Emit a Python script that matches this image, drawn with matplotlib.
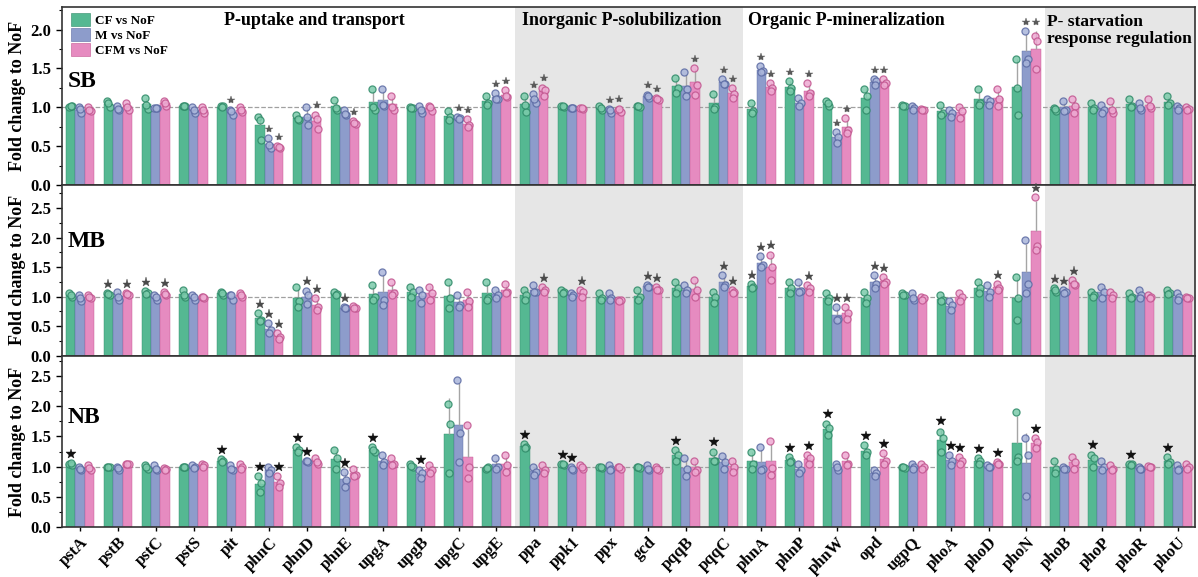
import matplotlib
matplotlib.use('Agg')
import matplotlib.pyplot as plt
import numpy as np
from matplotlib.transforms import offset_copy
from matplotlib.patches import Patch

plt.rcParams['font.family'] = ['Liberation Serif', 'DejaVu Serif']
plt.rcParams['font.weight'] = 'bold'

genes = ['pstA', 'pstB', 'pstC', 'pstS', 'pit', 'phnC', 'phnD', 'phnE', 'upgA', 'upgB',
         'upgC', 'upgE', 'ppa', 'ppk1', 'ppx', 'gcd', 'pqqB', 'pqqC', 'phnA', 'phnP',
         'phnW', 'opd', 'ugpQ', 'phoA', 'phoD', 'phoN', 'phoB', 'phoP', 'phoR', 'phoU']
series_names = ['CF vs NoF', 'M vs NoF', 'CFM vs NoF']
panel_names = ['SB', 'MB', 'NB']
sections = ['P-uptake and transport', 'Inorganic P-solubilization',
            'Organic P-mineralization', 'P- starvation\nresponse regulation']

# replicate values (3 per bar)
SB_CF = [(1.00,1.02,1.02),(1.08,1.00,1.05),(1.12,0.98,1.03),(1.02,1.01,1.02),(1.01,1.01,1.00),
         (0.88,0.58,0.84),(0.90,0.83,0.85),(1.09,0.97,0.99),(1.23,0.96,1.00),(1.00,0.99,0.99),
         (0.95,0.88,0.83),(1.15,1.05,1.03),(1.15,0.94,1.03),(1.02,1.00,1.01),(1.02,0.97,0.99),
         (1.01,1.00,1.01),(1.38,1.25,1.18),(1.17,1.00,0.98),(1.05,0.95,0.92),(1.34,1.25,1.21),
         (1.08,1.01,1.05),(1.23,1.14,0.97),(1.03,1.01,1.02),(1.03,0.93,0.90),(1.23,1.05,1.03),
         (1.62,0.90,1.25),(0.99,0.95,0.98),(1.05,0.99,0.97),(1.10,1.01,1.00),(1.14,1.05,1.03)]
SB_M = [(1.00,0.92,0.98),(1.02,0.97,0.98),(0.99,0.99,0.99),(1.00,0.93,0.97),(0.97,0.90,0.95),
        (0.60,0.48,0.52),(1.00,0.77,0.87),(0.96,0.90,0.91),(1.23,1.02,1.03),(1.02,0.93,0.97),
        (0.88,0.86,0.85),(1.18,1.11,1.10),(1.17,1.05,1.10),(0.99,0.99,0.99),(0.98,0.93,0.96),
        (1.16,1.12,1.15),(1.45,1.23,1.14),(1.36,1.30,1.30),(1.53,1.47,1.45),(1.12,1.05,1.01),
        (0.68,0.62,0.54),(1.36,1.34,1.29),(1.01,0.99,0.97),(0.97,0.93,0.88),(1.10,1.08,1.03),
        (1.98,1.62,1.57),(1.08,0.97,0.95),(1.03,0.97,0.93),(1.05,0.97,0.99),(1.01,0.99,0.97)]
SB_CFM = [(1.00,0.95,0.97),(1.06,0.97,1.00),(1.08,1.02,1.06),(1.00,0.92,0.96),(1.00,0.94,0.96),
          (0.50,0.48,0.49),(0.90,0.72,0.85),(0.82,0.79,0.80),(1.14,0.97,1.00),(1.02,0.95,1.00),
          (0.85,0.77,0.75),(1.22,1.13,1.14),(1.25,1.22,1.15),(0.99,0.98,0.99),(0.97,0.94,0.98),
          (1.12,1.09,1.10),(1.51,1.29,1.16),(1.25,1.17,1.12),(1.31,1.25,1.21),(1.31,1.18,1.14),
          (0.86,0.71,0.67),(1.36,1.31,1.29),(0.98,0.97,0.96),(1.00,0.95,0.86),(1.23,1.10,1.01),
          (1.92,1.85,1.49),(1.10,1.01,0.93),(1.08,0.93,0.97),(1.10,0.99,1.01),(1.00,0.98,0.97)]

MB_CF = [(1.06,1.00,1.02),(1.06,1.03,1.04),(1.10,1.06,1.05),(1.11,1.00,1.03),(1.08,1.03,1.06),
         (0.72,0.60,0.59),(1.17,0.92,0.83),(1.08,1.05,1.03),(1.19,1.00,0.94),(1.17,1.08,1.00),
         (1.25,0.97,0.80),(1.25,0.97,0.94),(1.11,1.03,0.94),(1.11,1.08,1.06),(1.06,0.97,0.94),
         (1.11,1.00,0.94),(1.25,1.14,1.06),(1.08,1.00,0.89),(1.22,1.17,1.14),(1.25,1.14,1.06),
         (1.06,0.97,0.92),(1.08,0.97,0.89),(1.07,1.03,1.03),(1.03,0.94,0.92),(1.25,1.14,1.06),
         (1.34,0.97,0.60),(1.14,1.08,1.11),(1.08,1.03,1.00),(1.06,1.00,0.98),(1.11,1.06,1.05)]
MB_M = [(1.03,0.93,0.98),(1.08,0.94,1.00),(1.03,0.94,1.00),(1.03,0.94,1.00),(1.03,0.94,1.03),
        (0.55,0.44,0.38),(1.10,1.02,0.87),(0.83,0.80,0.80),(1.42,0.94,0.86),(1.11,1.03,0.89),
        (1.03,0.86,0.83),(1.11,1.03,0.97),(1.19,1.08,1.08),(1.06,1.03,1.00),(1.06,0.98,0.94),
        (1.19,1.17,1.17),(1.19,1.11,1.06),(1.37,1.19,1.17),(1.68,1.54,1.51),(1.25,1.10,1.08),
        (0.83,0.63,0.60),(1.37,1.22,1.14),(1.06,0.94,0.98),(0.92,0.86,0.77),(1.19,1.08,1.00),
        (1.96,1.22,1.06),(1.11,1.08,1.06),(1.17,1.08,0.97),(1.11,1.02,0.97),(1.06,1.00,0.94)]
MB_CFM = [(1.02,0.97,0.99),(1.06,1.03,1.04),(1.08,1.03,1.04),(1.00,0.97,1.00),(1.06,1.00,1.03),
          (0.38,0.32,0.29),(0.97,0.83,0.77),(0.85,0.80,0.81),(1.25,1.06,1.03),(1.17,1.06,0.94),
          (1.08,0.92,0.83),(1.22,1.08,1.06),(1.17,1.11,1.08),(1.11,1.08,1.00),(0.94,0.94,0.92),
          (1.17,1.11,1.11),(1.28,1.11,1.00),(1.11,1.08,1.06),(1.71,1.51,1.28),(1.19,1.14,1.08),
          (0.83,0.72,0.63),(1.34,1.25,1.22),(1.00,0.97,0.94),(1.06,1.00,0.92),(1.22,1.14,1.11),
          (2.69,1.85,1.79),(1.28,1.19,1.22),(1.08,1.03,0.97),(1.03,1.00,0.98),(1.00,0.97,0.97)]

NB_CF = [(1.05,1.03,1.06),(1.00,0.99,1.00),(1.03,0.97,0.99),(1.00,0.99,0.99),(1.12,1.10,1.08),
         (0.84,0.73,0.59),(1.32,1.27,1.25),(1.27,1.14,0.97),(1.33,1.25,1.27),(1.05,0.99,1.01),
         (2.04,1.71,0.89),(0.97,0.99,0.98),(1.38,1.33,1.30),(1.05,1.03,1.04),(1.00,0.98,0.99),
         (1.00,0.98,0.99),(1.27,1.19,1.10),(1.25,1.10,1.10),(1.25,1.05,0.97),(1.16,1.10,1.07),
         (1.71,1.63,1.52),(1.36,1.25,1.19),(1.00,0.98,0.99),(1.58,1.47,1.25),(1.14,1.10,1.05),
         (1.91,1.16,1.10),(1.10,0.97,0.89),(1.19,1.14,1.00),(1.05,1.04,1.03),(1.16,1.08,1.05)]
NB_M = [(1.00,0.95,0.97),(1.00,0.95,0.98),(1.03,0.95,0.97),(1.03,1.00,0.98),(1.03,0.95,0.97),
        (1.00,0.95,0.90),(1.10,1.08,1.09),(0.92,0.78,0.67),(1.19,1.08,1.03),(0.95,0.89,0.81),
        (2.43,1.55,1.08),(1.14,1.00,0.97),(1.00,0.92,0.86),(1.00,0.95,0.96),(1.03,0.96,0.95),
        (1.03,0.95,0.97),(1.14,0.97,0.84),(1.18,1.08,0.97),(1.33,0.97,0.95),(1.05,0.95,0.89),
        (1.05,0.95,1.00),(0.95,0.89,0.84),(1.05,1.00,0.97),(1.19,1.10,1.03),(1.02,1.00,0.99),
        (1.47,1.19,0.51),(0.99,0.97,0.96),(1.10,1.00,0.95),(1.00,0.97,0.96),(1.03,0.97,0.95)]
NB_CFM = [(1.03,0.95,0.98),(1.05,1.04,1.04),(0.98,0.96,0.95),(1.05,1.03,1.00),(1.04,1.00,0.96),
          (0.84,0.73,0.67),(1.14,1.05,1.08),(0.97,0.86,0.84),(1.14,1.05,1.03),(1.03,0.95,0.89),
          (1.68,1.00,0.81),(1.19,1.03,0.92),(1.03,0.95,0.89),(1.03,0.97,0.99),(1.00,0.97,0.99),
          (1.00,0.95,0.96),(1.10,0.95,0.92),(1.10,1.00,0.92),(1.42,0.98,0.87),(1.19,1.14,1.05),
          (1.19,1.05,1.03),(1.22,1.10,1.05),(1.05,1.00,0.97),(1.16,1.10,1.05),(1.08,1.05,1.04),
          (1.47,1.41,1.30),(1.16,1.08,0.97),(1.03,0.97,0.95),(1.01,0.99,1.00),(1.05,1.00,0.97)]

# significance (gene indices marked with asterisk)
SB_sig = [[19],
          [4, 5, 10, 11, 12, 14, 15, 17, 18, 20, 21, 25],
          [5, 6, 7, 10, 11, 12, 14, 15, 16, 17, 18, 19, 20, 21, 25]]
MB_sig = [[1, 2, 5, 18, 26],
          [5, 6, 7, 15, 17, 18, 20, 21, 26],
          [1, 2, 5, 6, 12, 13, 15, 17, 18, 19, 20, 21, 24, 25, 26]]
NB_sig = [[0, 4, 5, 6, 8, 12, 13, 16, 17, 19, 20, 21, 23, 24, 27, 28, 29],
          [6, 7, 9, 13, 23],
          [5, 19, 21, 23, 24, 25]]

panels = [(SB_CF, SB_M, SB_CFM, SB_sig), (MB_CF, MB_M, MB_CFM, MB_sig), (NB_CF, NB_M, NB_CFM, NB_sig)]

colors = ['#55b892', '#8d9ccb', '#e68bc0']
edge_dark = ['#2f8a68', '#5b6aa3', '#c2558f']
light = ['#7ccbab', '#a9b5da', '#eeaad2']
star_colors = ['#5a5a5a', '#4a4a4a', '#111111']
star_sizes = [6.0, 6.5, 7.5]
ylims = [2.29, 2.89, 2.83]
yticks = [[0, 0.5, 1.0, 1.5, 2.0], [0, 0.5, 1.0, 1.5, 2.0, 2.5], [0, 0.5, 1.0, 1.5, 2.0, 2.5]]
label_y = [0.58, 0.67, 0.64]

fig = plt.figure(figsize=(11.98, 5.77), dpi=100)
L, W = 0.05175, 0.9457
rects = [(L, 0.6794, W, 0.3085), (L, 0.3835, W, 0.2959), (L, 0.0861, W, 0.2974)]
x = np.arange(len(genes))
width = 0.25
jit = [-0.035, 0.035, 0.0]

for p, (rect, data) in enumerate(zip(rects, panels)):
    ax = fig.add_axes(rect)
    ax.axvspan(11.5, 17.5, color='#e6e6e6', lw=0, zorder=0)
    ax.axvspan(25.5, 31, color='#e6e6e6', lw=0, zorder=0)
    ax.axhline(1.0, color='#a0a0a0', ls='--', lw=0.9, zorder=1)
    sigs = data[3]
    star_tr = offset_copy(ax.transData, fig=fig, x=0, y=6.5, units='points')
    for k in range(3):
        reps = np.array(data[k])
        means = reps.mean(axis=1)
        sds = reps.std(axis=1, ddof=1)
        xo = x + (k - 1) * width
        ax.bar(xo, means, width=width, color=colors[k], edgecolor=edge_dark[k],
               linewidth=0.3, zorder=2)
        ax.errorbar(xo, means, yerr=[np.zeros_like(sds), sds], fmt='none',
                    ecolor='#a5a5a5', elinewidth=1.0, capsize=0, zorder=3)
        for j in range(3):
            ax.scatter(xo + jit[j], reps[:, j], s=26, facecolor=light[k],
                       edgecolor=edge_dark[k], linewidth=0.9, alpha=0.85, zorder=4)
        for i in sigs[k]:
            ytop = max(reps[i].max(), means[i] + sds[i])
            ax.plot(xo[i], ytop, marker='*', ms=star_sizes[p], color=star_colors[p],
                    markeredgewidth=0.3, transform=star_tr, zorder=5, clip_on=False, ls='none')
    ax.set_xlim(-0.475, 29.45)
    ax.set_ylim(0, ylims[p])
    ax.set_yticks(yticks[p])
    ax.set_yticklabels(['%.1f' % v for v in yticks[p]], fontsize=12, fontweight='bold')
    ax.set_yticks(np.arange(0.25, ylims[p], 0.5), minor=True)
    ax.tick_params(axis='y', which='major', direction='out', length=4, width=1.0)
    ax.tick_params(axis='y', which='minor', direction='out', length=2, width=0.8)
    for s in ax.spines.values():
        s.set_linewidth(1.2)
        s.set_color('#333333')
    ax.set_ylabel('Fold change to NoF', fontsize=13, fontweight='bold', labelpad=3)
    ax.text(0.005, label_y[p], panel_names[p], transform=ax.transAxes,
            fontsize=17, fontweight='bold', va='center', ha='left')
    if p < 2:
        ax.set_xticks(x)
        ax.tick_params(axis='x', length=0, labelbottom=False)
    else:
        ax.set_xticks(x)
        ax.set_xticklabels(genes, rotation=45, ha='right', rotation_mode='anchor',
                           fontsize=12, fontweight='bold')
        ax.tick_params(axis='x', length=3, width=1.0, direction='out', pad=2)
    if p == 0:
        ax.text(6.2, 2.12, sections[0], fontsize=13, fontweight='bold', ha='center', va='center')
        ax.text(14.3, 2.12, sections[1], fontsize=13, fontweight='bold', ha='center', va='center')
        ax.text(20.25, 2.12, sections[2], fontsize=13, fontweight='bold', ha='center', va='center')
        ax.text(25.55, 1.99, sections[3], fontsize=12.5, fontweight='bold', ha='left', va='center',
                linespacing=1.05)
        handles = [Patch(facecolor=colors[k], edgecolor=edge_dark[k], linewidth=0.4) for k in range(3)]
        ax.legend(handles, series_names, loc='upper left', bbox_to_anchor=(0.0, 1.02),
                  frameon=False, handlelength=1.4, handleheight=1.15,
                  handletextpad=0.4, labelspacing=0.08, borderaxespad=0.3,
                  prop={'weight': 'bold', 'size': 9.5})

fig.savefig('out.png', dpi=100)
